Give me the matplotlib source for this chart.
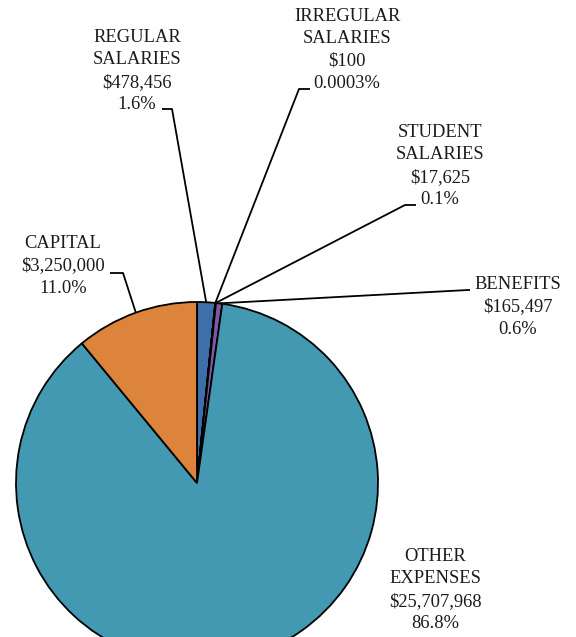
import numpy as np
import matplotlib.pyplot as plt

categories = ['REGULAR\nSALARIES', 'IRREGULAR\nSALARIES', 'STUDENT\nSALARIES',
              'BENEFITS', 'OTHER\nEXPENSES', 'CAPITAL']
amounts = [478456, 100, 17625, 165497, 25707968, 3250000]
pct_text = ['1.6%', '0.0003%', '0.1%', '0.6%', '86.8%', '11.0%']
colors = ['#3f6fa8', '#5b9b4a', '#c0504d', '#7b5aa2', '#4399b2', '#dd843c']

W, H = 576, 637
fig = plt.figure(figsize=(W / 100, H / 100), dpi=100)
ax = fig.add_axes([0, 0, 1, 1])

cx, cy, r = 197, H - 483, 181
wedges, _ = ax.pie(amounts, colors=colors, startangle=90, counterclock=False,
                   center=(cx, cy), radius=r,
                   wedgeprops=dict(edgecolor='black', linewidth=1.3))
ax.set_xlim(0, W)
ax.set_ylim(0, H)
ax.set_aspect('equal')
ax.axis('off')

# label block centre (px from top-left), elbow start/end of the leader line
label_pos = [(137, 71), (347, 50), (440, 166), (518, 307), (435, 590), (63, 266)]
elbows = [((162, 109), (172, 109)),
          ((310, 89), (299, 89)),
          ((416, 205), (405, 205)),
          ((470, 290), (468, 290)),
          None,
          ((110, 273), (123, 273))]

for w, cat, amt, pct, (lx, ly), el in zip(wedges, categories, amounts, pct_text,
                                           label_pos, elbows):
    txt = f'{cat}\n${amt:,}\n{pct}'
    ax.text(lx, H - ly, txt, ha='center', va='center', fontsize=13.3,
            family='Liberation Serif', color='#1a1a1a', linespacing=1.4)
    if el is None:
        continue
    mid = np.deg2rad((w.theta1 + w.theta2) / 2)
    ex, ey = cx + r * np.cos(mid), cy + r * np.sin(mid)
    (x0, y0), (x1, y1) = el
    ax.plot([x0, x1, ex], [H - y0, H - y1, ey], color='black', lw=1.3,
            solid_capstyle='butt', clip_on=False)

fig.savefig('out.png', dpi=100)
